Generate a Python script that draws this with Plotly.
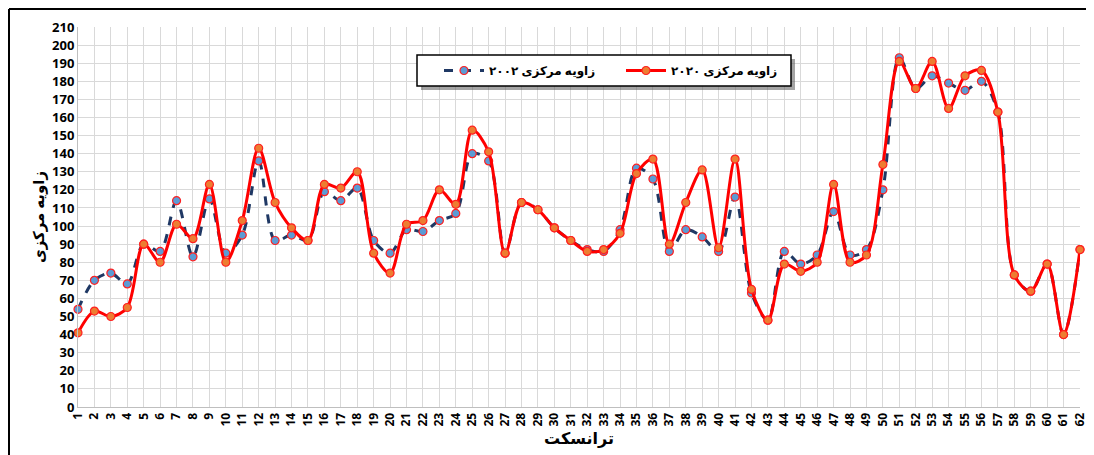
import plotly.graph_objects as go

transects = list(range(1, 63))
tick_labels = [str(i) for i in transects]
y_ticks = list(range(0, 211, 10))

angle_2002 = [54, 70, 74, 68, 90, 86, 114, 83, 115, 85,
              95, 136, 92, 95, 92, 119, 114, 121, 92, 85,
              98, 97, 103, 107, 140, 136, 85, 113, 109, 99,
              92, 87, 86, 98, 132, 126, 86, 98, 94, 86,
              116, 63, 48, 86, 79, 84, 108, 84, 87, 120,
              193, 176, 183, 179, 175, 180, 163, 73, 64, 79,
              40, 87]
angle_2020 = [41, 53, 50, 55, 90, 80, 101, 93, 123, 80,
              103, 143, 113, 99, 92, 123, 121, 130, 85, 74,
              101, 103, 120, 112, 153, 141, 85, 113, 109, 99,
              92, 86, 87, 96, 129, 137, 90, 113, 131, 88,
              137, 65, 48, 79, 75, 80, 123, 80, 84, 134,
              191, 176, 191, 165, 183, 186, 163, 73, 64, 79,
              40, 87]

name_2002 = "<b>زاویه مرکزی ۲۰۰۲</b>"
name_2020 = "<b>زاویه مرکزی ۲۰۲۰</b>"
y_title = "<b>زاویه مرکزی</b>"
x_title = "<b>ترانسکت</b>"

FONT = "Open Sans, DejaVu Sans, sans-serif"

fig = go.Figure()
fig.add_trace(go.Scatter(
    x=transects, y=angle_2002, name=name_2002, mode="lines+markers",
    line=dict(color="#1F3864", width=3, dash="dash", shape="spline", smoothing=0.9),
    marker=dict(size=8, color="#5B9BD5", line=dict(color="#FF2020", width=1.2)),
    cliponaxis=False,
))
fig.add_trace(go.Scatter(
    x=transects, y=angle_2020, name=name_2020, mode="lines+markers",
    line=dict(color="#FF0000", width=3, shape="spline", smoothing=0.9),
    marker=dict(size=8, color="#ED7D31", line=dict(color="#FF2020", width=1.2)),
    cliponaxis=False,
))

# page body has an 8px margin; figure coords = reference coords - 8
OFF = 8
W, H = 1094 - OFF, 455 - OFF
L, T = 78 - OFF, 27 - OFF
R = W - (1080 - OFF)
B = H - (407 - OFF)
pw, ph = W - L - R, H - T - B

def px(x):
    return (x - OFF - L) / pw

def py(y):
    return (H - B - (y - OFF)) / ph

shapes = [
    dict(type="line", xref="paper", yref="paper", x0=px(9), x1=px(1094), y0=py(9), y1=py(9),
         line=dict(color="black", width=2)),
    dict(type="line", xref="paper", yref="paper", x0=px(9), x1=px(9), y0=py(9), y1=py(455),
         line=dict(color="black", width=2)),
    # legend shadow and box
    dict(type="rect", xref="paper", yref="paper", x0=px(421), x1=px(795), y0=py(59), y1=py(90),
         line=dict(width=0), fillcolor="rgba(90,90,90,0.55)", layer="above"),
    dict(type="rect", xref="paper", yref="paper", x0=px(417), x1=px(791), y0=py(55), y1=py(86),
         line=dict(color="black", width=1.5), fillcolor="white", layer="above"),
]

fig.update_layout(
    width=W, height=H,
    margin=dict(l=L, r=R, t=T, b=B, autoexpand=False),
    paper_bgcolor="white", plot_bgcolor="white",
    font=dict(family=FONT, color="black"),
    showlegend=True,
    legend=dict(
        orientation="h", x=px(439), y=py(70.5), xanchor="left", yanchor="middle",
        bgcolor="rgba(0,0,0,0)", borderwidth=0,
        font=dict(size=12, family=FONT, color="black"),
        itemwidth=40, entrywidth=127, traceorder="normal",
    ),
    shapes=shapes,
    xaxis=dict(
        range=[1, 62], tickmode="array", tickvals=transects,
        ticktext=["<b>%s</b>" % t for t in tick_labels], tickangle=-90,
        tickfont=dict(size=12, family=FONT), showgrid=True, gridcolor="#D9D9D9",
        gridwidth=1, showline=True, linecolor="#BFBFBF", linewidth=1,
        zeroline=False, ticks="", title=dict(text=x_title, font=dict(size=16, family=FONT), standoff=4),
    ),
    yaxis=dict(
        range=[0, 210], tickmode="array", tickvals=y_ticks,
        ticktext=["<b>%d</b>" % v for v in y_ticks],
        tickfont=dict(size=13, family=FONT), showgrid=True, gridcolor="#D9D9D9",
        gridwidth=1, showline=True, linecolor="#BFBFBF", linewidth=1,
        zeroline=False, ticks="", title=dict(text=y_title, font=dict(size=15, family=FONT), standoff=3),
    ),
)

fig.write_html("out.html")
